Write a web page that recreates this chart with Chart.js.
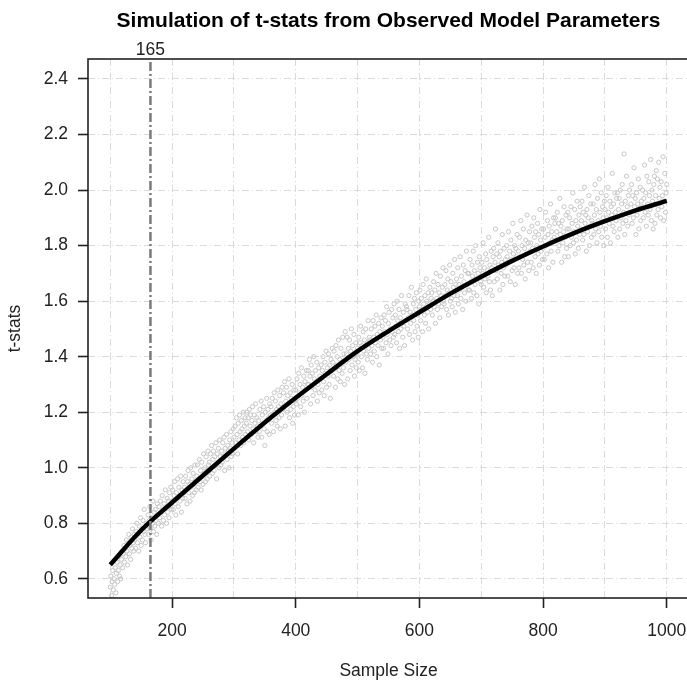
<!DOCTYPE html>
<html><head><meta charset="utf-8">
<script src="https://cdn.jsdelivr.net/npm/chart.js@4"></script>
<style>html,body{margin:0;padding:0;background:#fff;overflow:hidden;width:687px;height:683px}canvas{display:block}</style>
</head><body><canvas id="c" width="700" height="683"></canvas>
<script>
const chartTitle = 'Simulation of t-stats from Observed Model Parameters';
const xAxisTitle = 'Sample Size';
const yAxisTitle = 't-stats';
const xGridValues = [100, 200, 300, 400, 500, 600, 700, 800, 900, 1000];
const xTickLabels = [200, 400, 600, 800, 1000];
const yTickValues = [0.6, 0.8, 1.0, 1.2, 1.4, 1.6, 1.8, 2.0, 2.2, 2.4];
const xRange = [64, 1036];
const yRange = [0.531, 2.472];
const markerN = 165;
const markerLabel = '165';

// simulated t-stats, one per sample size 100, 101, ..., 1000
const simStart = 100, simStep = 1;
const simT = [
0.57,0.61,0.54,0.59,0.63,0.56,0.60,0.58,0.64,0.55,0.62,0.66,0.59,0.63,0.68,0.61,0.65,0.60,0.67,0.70,
0.64,0.69,0.72,0.66,0.71,0.68,0.74,0.70,0.65,0.73,0.76,0.69,0.72,0.67,0.75,0.71,0.78,0.73,0.70,0.76,
0.74,0.71,0.77,0.80,0.73,0.76,0.70,0.79,0.75,0.82,0.72,0.78,0.74,0.81,0.77,0.85,0.76,0.73,0.80,0.78,
0.79,0.83,0.76,0.81,0.86,0.78,0.74,0.82,0.80,0.88,0.77,0.84,0.79,0.85,0.81,0.76,0.87,0.83,0.80,0.86,
0.82,0.88,0.84,0.79,0.90,0.85,0.81,0.87,0.83,0.92,0.86,0.80,0.89,0.84,0.88,0.82,0.91,0.86,0.93,0.85,
0.88,0.92,0.85,0.90,0.95,0.87,0.83,0.91,0.89,0.96,0.86,0.93,0.90,0.88,0.97,0.84,0.92,0.89,0.95,0.91,
0.93,0.89,0.97,0.92,0.87,0.95,0.99,0.91,0.94,0.88,1.00,0.93,0.96,0.90,0.98,0.94,0.91,1.01,0.95,0.92,
0.97,1.01,0.93,0.96,1.03,0.95,0.99,0.92,1.02,0.97,0.94,1.05,0.98,1.00,0.95,1.04,0.99,0.96,1.06,1.01,
1.02,0.97,1.05,1.00,1.08,0.98,1.03,1.06,0.99,1.04,1.01,1.09,0.96,1.05,1.02,1.07,1.00,1.10,1.04,1.01,
1.06,1.02,1.09,1.04,1.11,0.99,1.07,1.05,1.12,1.03,1.08,1.06,1.00,1.10,1.07,1.13,1.04,1.09,1.05,1.14,
1.11,1.07,1.15,1.09,1.18,1.12,1.05,1.16,1.10,1.19,1.13,1.08,1.17,1.14,1.11,1.20,1.09,1.15,1.18,1.12,
1.16,1.20,1.13,1.18,1.10,1.21,1.15,1.19,1.12,1.17,1.22,1.14,1.09,1.19,1.16,1.23,1.13,1.18,1.15,1.11,
1.17,1.13,1.21,1.15,1.24,1.11,1.19,1.16,1.22,1.14,1.08,1.20,1.17,1.25,1.13,1.21,1.18,1.12,1.23,1.19,
1.22,1.16,1.25,1.19,1.13,1.27,1.20,1.24,1.17,1.21,1.15,1.28,1.22,1.18,1.26,1.14,1.23,1.19,1.29,1.21,
1.27,1.22,1.31,1.15,1.24,1.29,1.20,1.26,1.23,1.32,1.18,1.27,1.21,1.25,1.30,1.16,1.22,1.28,1.19,1.24,
1.28,1.23,1.32,1.25,1.19,1.34,1.27,1.30,1.22,1.36,1.26,1.29,1.24,1.33,1.20,1.31,1.28,1.35,1.25,1.30,
1.35,1.30,1.39,1.33,1.23,1.37,1.29,1.34,1.26,1.40,1.32,1.28,1.35,1.31,1.38,1.24,1.30,1.36,1.27,1.33,
1.32,1.37,1.28,1.35,1.40,1.31,1.26,1.38,1.34,1.42,1.29,1.36,1.33,1.41,1.30,1.37,1.25,1.39,1.35,1.43,
1.38,1.33,1.42,1.36,1.29,1.44,1.37,1.40,1.32,1.46,1.35,1.39,1.31,1.43,1.38,1.34,1.47,1.36,1.41,1.30,
1.49,1.38,1.41,1.47,1.32,1.43,1.39,1.46,1.35,1.42,1.50,1.37,1.44,1.40,1.48,1.33,1.39,1.45,1.36,1.41,
1.43,1.38,1.47,1.35,1.45,1.51,1.40,1.44,1.36,1.49,1.42,1.46,1.34,1.50,1.41,1.45,1.39,1.53,1.43,1.47,
1.46,1.41,1.50,1.44,1.38,1.53,1.47,1.42,1.51,1.45,1.55,1.40,1.48,1.44,1.52,1.37,1.49,1.46,1.54,1.43,
1.51,1.47,1.43,1.55,1.49,1.53,1.45,1.58,1.48,1.41,1.52,1.56,1.46,1.50,1.44,1.57,1.49,1.54,1.47,1.59,
1.48,1.55,1.51,1.45,1.60,1.53,1.49,1.57,1.43,1.54,1.50,1.62,1.52,1.47,1.56,1.51,1.44,1.59,1.53,1.58,
1.57,1.50,1.54,1.62,1.48,1.56,1.52,1.65,1.55,1.46,1.59,1.53,1.61,1.49,1.57,1.63,1.51,1.55,1.47,1.60,
1.58,1.64,1.53,1.61,1.57,1.49,1.66,1.59,1.55,1.62,1.52,1.68,1.60,1.56,1.63,1.50,1.59,1.65,1.57,1.61,
1.63,1.55,1.60,1.67,1.58,1.64,1.52,1.70,1.61,1.57,1.66,1.59,1.63,1.54,1.69,1.62,1.58,1.65,1.72,1.60,
1.59,1.66,1.62,1.71,1.57,1.64,1.68,1.55,1.63,1.73,1.60,1.67,1.61,1.58,1.70,1.65,1.62,1.75,1.56,1.66,
1.68,1.62,1.72,1.59,1.66,1.64,1.76,1.61,1.69,1.65,1.57,1.73,1.67,1.63,1.71,1.60,1.78,1.66,1.70,1.64,
1.70,1.64,1.75,1.67,1.61,1.73,1.69,1.78,1.63,1.71,1.66,1.80,1.68,1.62,1.74,1.70,1.59,1.76,1.72,1.67,
1.66,1.74,1.70,1.81,1.65,1.72,1.68,1.77,1.63,1.75,1.71,1.69,1.83,1.67,1.73,1.64,1.78,1.72,1.62,1.76,
1.79,1.67,1.74,1.86,1.71,1.77,1.68,1.81,1.73,1.76,1.64,1.78,1.70,1.74,1.84,1.66,1.72,1.79,1.69,1.75,
1.73,1.80,1.76,1.69,1.85,1.74,1.78,1.67,1.82,1.75,1.71,1.88,1.77,1.72,1.80,1.66,1.79,1.76,1.84,1.70,
1.78,1.72,1.83,1.76,1.89,1.70,1.80,1.75,1.86,1.73,1.79,1.68,1.82,1.77,1.91,1.74,1.81,1.71,1.85,1.78,
1.81,1.74,1.87,1.79,1.72,1.90,1.83,1.76,1.85,1.70,1.80,1.88,1.77,1.84,1.73,1.93,1.82,1.78,1.86,1.75,
1.79,1.86,1.75,1.83,1.92,1.80,1.77,1.89,1.84,1.72,1.87,1.81,1.95,1.78,1.85,1.82,1.74,1.90,1.83,1.88,
1.90,1.82,1.85,1.92,1.78,1.88,1.80,1.97,1.84,1.87,1.74,1.89,1.81,1.85,1.94,1.76,1.83,1.91,1.79,1.86,
1.92,1.76,1.86,1.90,1.80,1.94,1.83,1.88,1.99,1.81,1.85,1.93,1.77,1.89,1.82,1.96,1.87,1.79,1.91,1.84,
1.94,1.86,1.89,1.96,1.82,1.92,1.84,2.01,1.88,1.91,1.78,1.93,1.85,1.90,1.98,1.80,1.87,1.95,1.83,1.89,
1.88,1.95,1.84,1.91,2.02,1.86,1.93,1.81,1.97,1.89,1.85,2.04,1.92,1.87,1.99,1.83,1.94,1.90,1.80,1.96,
1.93,1.86,1.98,1.90,1.83,2.01,1.92,1.88,1.96,1.81,1.94,1.91,2.06,1.87,1.95,1.85,1.99,1.92,1.89,1.97,
1.99,1.83,1.93,1.97,1.86,2.00,1.90,1.95,2.02,1.88,1.92,2.13,1.84,1.96,1.89,2.05,1.94,1.87,1.98,1.91,
2.00,1.92,1.95,2.02,1.88,1.98,1.90,2.08,1.94,1.97,1.84,1.99,1.91,1.95,2.04,1.86,1.93,2.01,1.89,1.96,
1.94,2.00,1.90,1.97,2.09,1.92,1.99,1.87,2.05,1.95,1.91,2.03,1.98,1.93,2.11,1.89,2.00,1.96,1.86,2.02,
2.05,1.88,1.98,2.07,1.91,2.04,1.93,2.10,1.97,2.01,1.90,2.03,1.94,1.98,2.12,1.89,1.96,2.06,1.92,1.99,
2.02
];

// fitted curve
const fitN = [100,150,200,250,300,350,400,450,500,550,600,650,700,750,800,850,900,950,1000];
const fitT = [0.651,0.775,0.875,0.972,1.069,1.163,1.252,1.337,1.420,1.492,1.560,1.627,1.688,1.745,1.797,1.845,1.888,1.927,1.961];

const FONT = "'Liberation Sans', Arial, Helvetica, sans-serif";
const INK = '#222';

const decor = {
  id: 'decor',
  beforeDraw(chart) {
    const c = chart.ctx;
    c.save(); c.fillStyle = '#fff'; c.fillRect(0, 0, chart.width, chart.height); c.restore();
  },
  afterDatasetsDraw(chart) {
    const c = chart.ctx, a = chart.chartArea, xs = chart.scales.x;
    const mx = xs.getPixelForValue(markerN);
    c.save();
    // marker line
    c.strokeStyle = '#7a7a7a'; c.lineWidth = 2.5; c.setLineDash([9, 3, 2, 3]);
    c.beginPath(); c.moveTo(mx, a.bottom); c.lineTo(mx, a.top); c.stroke();
    c.setLineDash([]);
    // box
    c.strokeStyle = INK; c.lineWidth = 1.6;
    c.strokeRect(a.left, a.top, a.right - a.left, a.bottom - a.top);
    // marker label
    c.fillStyle = INK; c.font = '17.5px ' + FONT; c.textAlign = 'center'; c.textBaseline = 'alphabetic';
    c.fillText(markerLabel, mx, 55);
    // title
    c.fillStyle = '#000'; c.font = 'bold 21px ' + FONT;
    c.fillText(chartTitle, (a.left + a.right) / 2, 26.5);
    c.restore();
  }
};

new Chart(document.getElementById('c'), {
  type: 'scatter',
  data: {
    datasets: [
      {
        label: 'fit',
        data: fitN.map((n, i) => ({ x: n, y: fitT[i] })),
        showLine: true,
        borderColor: '#000',
        borderWidth: 4.5,
        borderCapStyle: 'butt',
        cubicInterpolationMode: 'monotone',
        pointRadius: 0,
        fill: false
      },
      {
        label: 'sim',
        data: simT.map((t, i) => ({ x: simStart + i * simStep, y: t })),
        showLine: false,
        pointRadius: 2.1,
        pointBorderWidth: 1,
        pointBorderColor: '#c8c8c8',
        pointBackgroundColor: 'rgba(0,0,0,0)'
      }
    ]
  },
  options: {
    responsive: false,
    devicePixelRatio: 1,
    animation: false,
    events: [],
    layout: { padding: { left: 0, top: 59, right: 11, bottom: 0 } },
    plugins: { legend: { display: false }, title: { display: false }, tooltip: { enabled: false } },
    scales: {
      x: {
        type: 'linear',
        min: xRange[0], max: xRange[1],
        afterBuildTicks: s => { s.ticks = xGridValues.map(v => ({ value: v })); },
        afterFit: s => { s.height = 85; },
        ticks: {
          autoSkip: false, maxRotation: 0, padding: 13, color: INK,
          font: { family: FONT, size: 17.5 },
          callback: v => xTickLabels.includes(v) ? String(v) : ''
        },
        grid: {
          color: '#dadada', lineWidth: 1, borderDash: [7, 3, 1, 3],
          drawTicks: true, tickLength: 10, tickWidth: 1.6, tickBorderDash: [],
          tickColor: ctx => (ctx.tick && xTickLabels.includes(ctx.tick.value)) ? INK : 'rgba(0,0,0,0)'
        },
        border: { display: false, dash: [7, 3, 1, 3] },
        title: { display: true, text: xAxisTitle, color: INK, font: { family: FONT, size: 17.5 }, padding: { top: 1, bottom: 1 } }
      },
      y: {
        type: 'linear',
        min: yRange[0], max: yRange[1],
        afterBuildTicks: s => { s.ticks = yTickValues.map(v => ({ value: v })); },
        afterFit: s => { s.width = 88; },
        ticks: {
          padding: 10, color: INK,
          font: { family: FONT, size: 17.5 },
          callback: v => Number(v).toFixed(1)
        },
        grid: {
          color: '#dadada', lineWidth: 1, borderDash: [7, 3, 1, 3],
          drawTicks: true, tickLength: 10, tickWidth: 1.6, tickBorderDash: [], tickColor: INK
        },
        border: { display: false, dash: [7, 3, 1, 3] },
        title: { display: true, text: yAxisTitle, color: INK, font: { family: FONT, size: 17.5 }, padding: { top: 5, bottom: 5 } }
      }
    }
  },
  plugins: [decor]
});
</script>
</body></html>
